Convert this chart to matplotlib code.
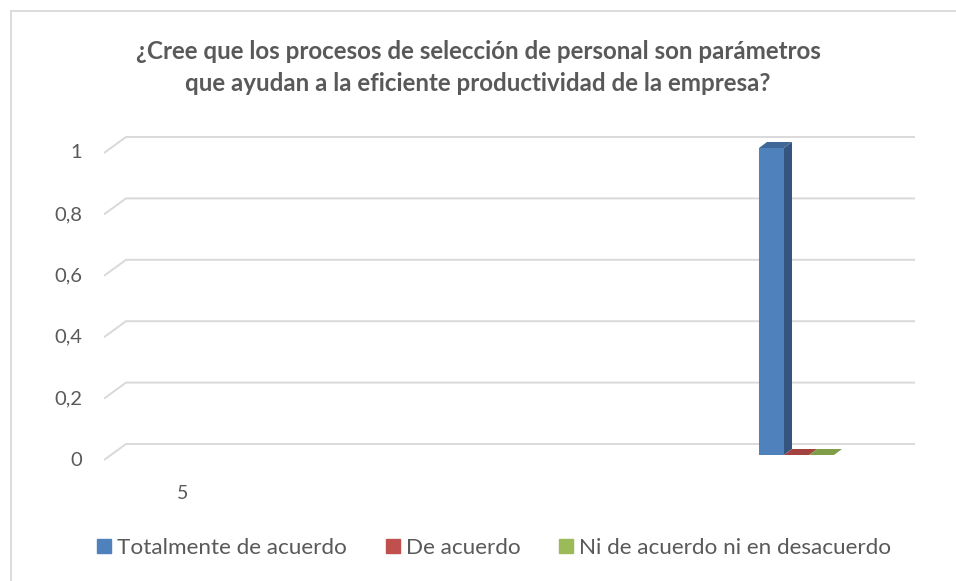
import numpy as np
import matplotlib.pyplot as plt
from matplotlib.patches import Polygon, Patch, Rectangle

plt.rcParams['font.family'] = ['Lato', 'DejaVu Sans']

# data
title = ('¿Cree que los procesos de selección de personal son parámetros\n'
         'que ayudan a la eficiente productividad de la empresa?')
series = ['Totalmente de acuerdo', 'De acuerdo', 'Ni de acuerdo ni en desacuerdo']
values = [1, 0, 0]
category = '5'
yticks = [0, 0.2, 0.4, 0.6, 0.8, 1]
ytick_labels = ['0', '0,2', '0,4', '0,6', '0,8', '1']

# colours (front, side, top)
front = ['#4F81BD', '#C0504D', '#9BBB59']
side = ['#34557F', '#8A3735', '#6F8A3E']
top = ['#3F6797', '#A3423F', '#809D4A']
grid_c = '#D9D9D9'
text_c = '#595959'

W, H = 956, 581
fig = plt.figure(figsize=(W / 100, H / 100), dpi=100)

# plot area, in pixels: x 104..915, value 0 at y=455, 1 at y=148
ylo, yhi = -0.2, 1.15
ppu = 307.0
y0 = H - 455
ax = fig.add_axes([104 / W, (y0 + ylo * ppu) / H, 811 / W, (yhi - ylo) * ppu / H])
ax.set_xlim(0, 1)
ax.set_ylim(ylo, yhi)
ax.axis('off')

# 3d wall offsets
wx = 22 / 811
wy_front = -5 / ppu
wy_back = 11 / ppu
for v, lab in zip(yticks, ytick_labels):
    ax.plot([0, wx, 1], [v + wy_front, v + wy_back, v + wy_back],
            color=grid_c, lw=1.4, solid_capstyle='butt', zorder=1)
    ax.text(-0.027, v + wy_front, lab, ha='right', va='center',
            fontsize=14.5, color=text_c)

ax.text(0.0974, -0.124, category, ha='center', va='center',
        fontsize=14, color=text_c)

# bars
bw = 25 / 811
x0 = 655 / 811
dx = 8 / 811
dy = 6 / ppu
xs = x0 + bw * np.arange(len(values))
ax.bar(xs, values, width=bw, align='edge', color=front, lw=0, zorder=3)
for x, v, cs, ct in zip(xs, values, side, top):
    ax.add_patch(Polygon([(x + bw, 0), (x + bw + dx, dy), (x + bw + dx, v + dy), (x + bw, v)],
                         closed=True, color=cs, lw=0, zorder=3))
    ax.add_patch(Polygon([(x, v), (x + dx, v + dy), (x + bw + dx, v + dy), (x + bw, v)],
                         closed=True, color=ct, lw=0, zorder=4))

# title
fig.text(0.5, 1 - 67.5 / H, title, ha='center', va='center', fontsize=17.4,
         fontweight='bold', color=text_c, linespacing=1.47)

# legend
handles = [Patch(color=c, label=s) for c, s in zip(front, series)]
fig.legend(handles=handles, loc='center', bbox_to_anchor=(0.517, 1 - 548 / H),
           ncol=3, frameon=False, handlelength=0.62, handleheight=0.62,
           handletextpad=0.27, columnspacing=1.72, fontsize=16.2, labelcolor=text_c)

# chart border
fig.patches.append(Rectangle((11 / W, -0.1), 1.2, 1.1 - 11 / H, transform=fig.transFigure,
                             fill=False, edgecolor=grid_c, lw=1.3))

fig.savefig('out.png', dpi=100)
